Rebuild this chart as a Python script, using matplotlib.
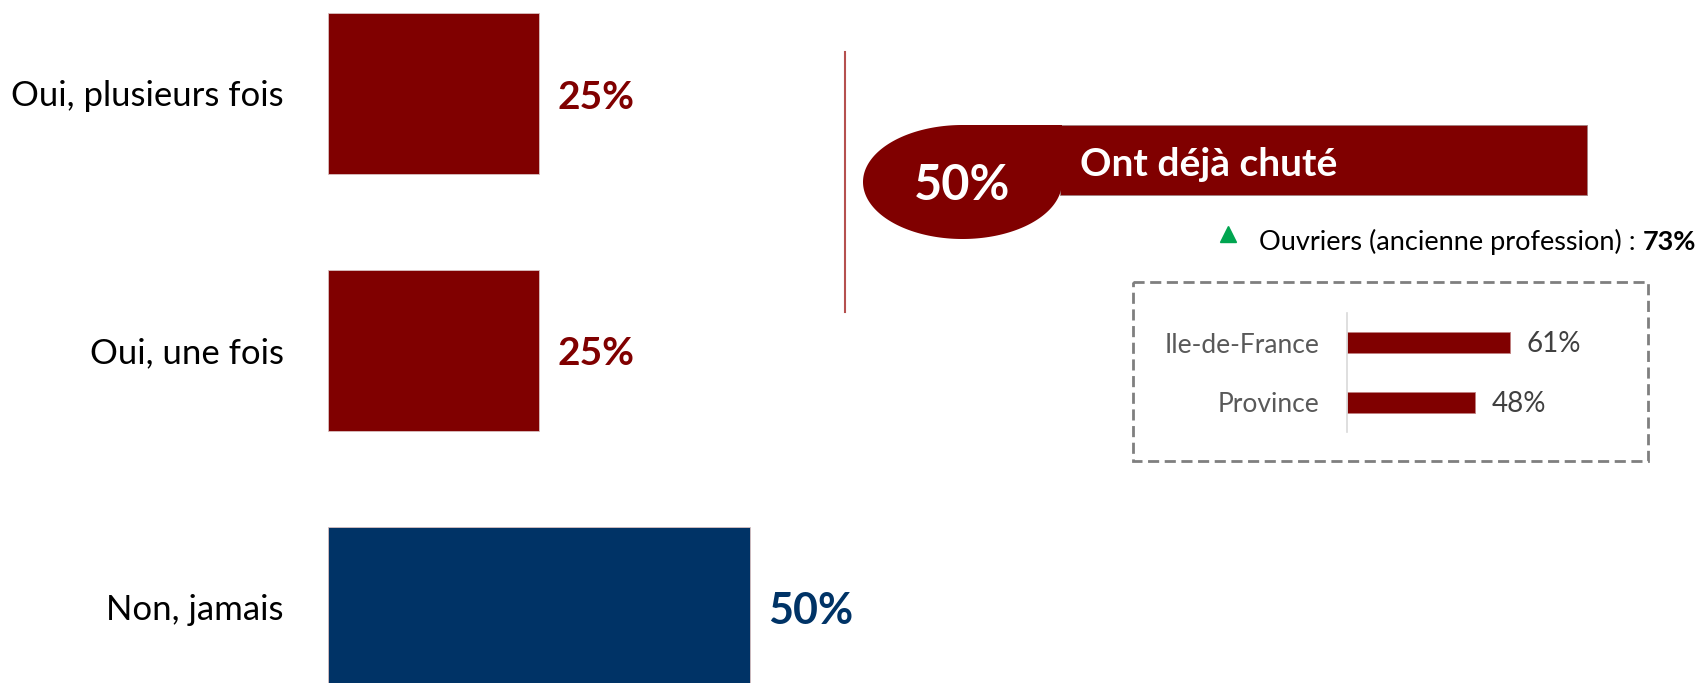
import matplotlib
matplotlib.use("Agg")
import matplotlib.pyplot as plt
from matplotlib.patches import Polygon, Rectangle
import numpy as np

# ---------------- data ----------------
categories = ["Oui, plusieurs fois", "Oui, une fois", "Non, jamais"]
values = [25, 25, 50]
bar_colors = ["#800000", "#800000", "#003366"]
value_sizes = [28, 28, 31]

total_label = "50%"
total_title = "Ont déjà chuté"
highlight_label = "Ouvriers (ancienne profession) : "
highlight_value = "73%"

regions = ["Ile-de-France", "Province"]
region_values = [61, 48]

RED = "#800000"
NAVY = "#003366"
FONT = ["Lato", "DejaVu Sans"]
plt.rcParams["font.family"] = FONT

W, H = 1702, 683
fig = plt.figure(figsize=(W / 100, H / 100), dpi=100)

def ax_px(left, top, right, bottom):
    return fig.add_axes([left / W, 1 - bottom / H, (right - left) / W, (bottom - top) / H])

# ---------------- main bars ----------------
ax = ax_px(328, 0, 328 + 844, 683)
y = np.arange(len(categories))
ax.barh(y, values, height=0.626, color=bar_colors, edgecolor="#d9c0c0", linewidth=0.6)
ax.set_xlim(0, 100)
ax.set_ylim(2.294, -0.364)
ax.axis("off")
for yi, v, c, lab, fs in zip(y, values, bar_colors, categories, value_sizes):
    ax.annotate(f"{v}%", (v, yi), xytext=(13, -2.5), textcoords="offset points",
                ha="left", va="center", fontsize=fs, fontweight="bold", color=c)
    ax.annotate(lab, (0, yi), xytext=(-32, -2), textcoords="offset points",
                ha="right", va="center", fontsize=25, color="black", annotation_clip=False)

# ---------------- overlay (decorations) ----------------
ov = fig.add_axes([0, 0, 1, 1], zorder=-1)
ov.set_xlim(0, W)
ov.set_ylim(H, 0)
ov.axis("off")
ov.patch.set_alpha(0)

# vertical separator
ov.plot([845, 845], [52, 312], color="#b5504f", lw=1.5)

# banner rectangle
ov.add_patch(Rectangle((1060, 125), 527, 70, facecolor=RED, edgecolor="#a08080", lw=0.6))
# teardrop
cx, cy, rx, ry = 962.5, 182, 99.5, 57
t = np.linspace(0, 1.5 * np.pi, 200)
pts = np.column_stack([cx + rx * np.cos(t), cy + ry * np.sin(t)])
pts = np.vstack([pts, [[cx + rx, cy - ry]]])
ov.add_patch(Polygon(pts, closed=True, facecolor=RED, edgecolor="none"))
ov.text(cx, cy + 3, total_label, ha="center", va="center", fontsize=35,
        fontweight="bold", color="white")
ov.text(1080, 165, total_title, ha="left", va="center", fontsize=28,
        fontweight="bold", color="white")

# highlight line
ov.plot([1228], [234], marker="^", markersize=11, color="#00a550", lw=0)
t1 = ov.text(1259, 242, highlight_label, ha="left", va="center", fontsize=19.5, color="black")
fig.canvas.draw()
bb = t1.get_window_extent()
x_end = bb.x1
ov.text(x_end, 242, highlight_value, ha="left", va="center", fontsize=19.5,
        fontweight="bold", color="black")

# dashed box
ov.add_patch(Rectangle((1133, 282), 515, 179, facecolor="none", edgecolor="#7f7f7f",
                       lw=2, linestyle=(0, (4, 2))))

# ---------------- inset bars ----------------
ax2 = ax_px(1347, 313, 1347 + 267, 432)
yr = np.arange(len(regions))
ax2.barh(yr, region_values, height=0.35, color=RED, edgecolor="#c08080", linewidth=0.6)
ax2.set_xlim(0, 100)
ax2.set_ylim(1.5, -0.5)
for s in ["top", "right", "bottom"]:
    ax2.spines[s].set_visible(False)
ax2.spines["left"].set_color("#d9d9d9")
ax2.spines["left"].set_linewidth(1.2)
ax2.set_xticks([])
ax2.set_yticks(yr)
ax2.set_yticklabels(regions, fontsize=19, color="#595959")
ax2.tick_params(axis="y", length=0, pad=20)
ax2.patch.set_alpha(0)
for yi, v in zip(yr, region_values):
    ax2.annotate(f"{v}%", (v, yi), xytext=(12, -1), textcoords="offset points",
                 ha="left", va="center", fontsize=20, color="#404040")

fig.savefig("out.png", dpi=100)
